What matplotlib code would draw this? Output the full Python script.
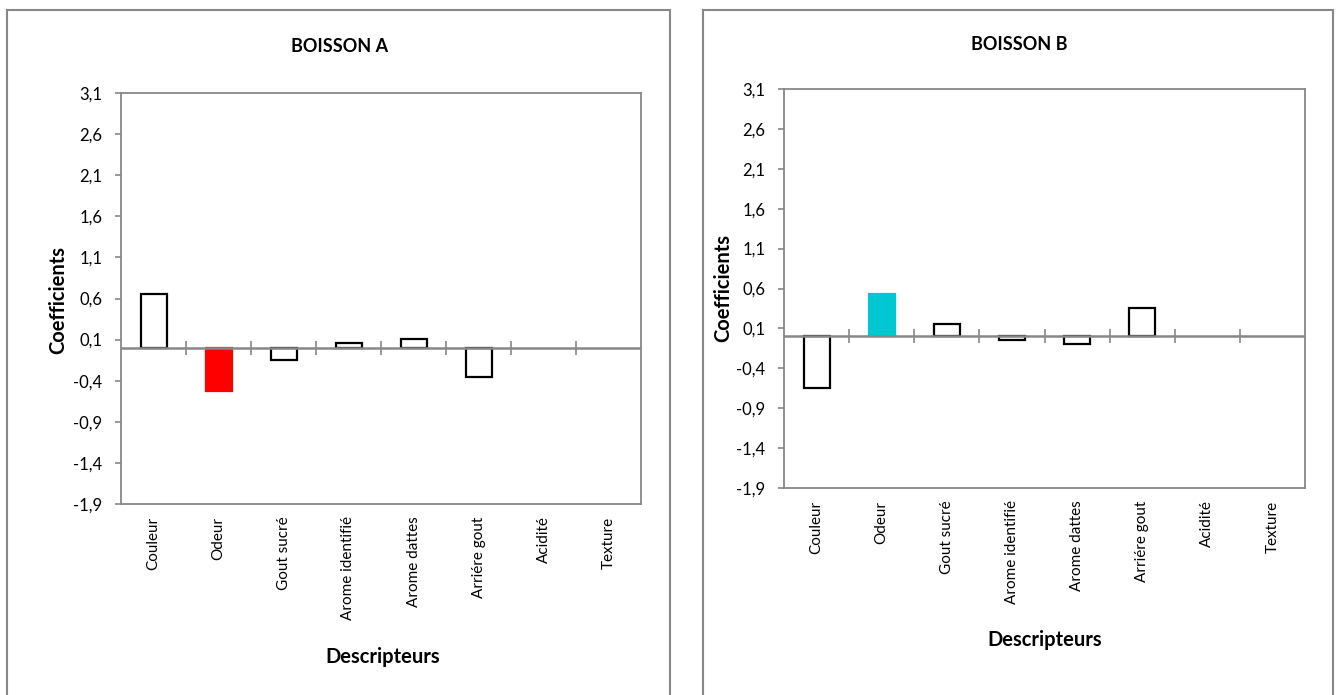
import numpy as np
import matplotlib
matplotlib.use("Agg")
import matplotlib.pyplot as plt
from matplotlib.patches import Rectangle

plt.rcParams['font.family'] = ['Lato', 'DejaVu Sans']

descripteurs = ['Couleur', 'Odeur', 'Gout sucré', 'Arome identifié',
                'Arome dattes', 'Arriére gout', 'Acidité', 'Texture']
coef_a = [0.66, -0.53, -0.15, 0.06, 0.11, -0.35, 0.0, 0.0]
coef_b = [-0.65, 0.535, 0.155, -0.05, -0.10, 0.355, 0.0, 0.0]
highlight_a = '#FF0000'
highlight_b = '#00C8D2'
yticks = [-1.9, -1.4, -0.9, -0.4, 0.1, 0.6, 1.1, 1.6, 2.1, 2.6, 3.1]

GRAY = '#888888'
W, H = 1337, 695


def draw_panel(fig, rect, title, values, hcolor, title_xy, ylab_xy, xlab_xy):
    ax = fig.add_axes(rect)
    x = np.arange(len(descripteurs))
    colors = ['white'] * len(values)
    edges = ['black' if v != 0 else 'none' for v in values]
    colors[1] = hcolor
    edges[1] = hcolor
    ax.bar(x, values, width=0.4, color=colors, edgecolor=edges, linewidth=1.6, zorder=2)
    ax.axhline(0, color=GRAY, lw=1.8, zorder=3)

    ax.set_xlim(-0.5, len(descripteurs) - 0.5)
    ax.set_ylim(-1.9, 3.1)
    ax.set_yticks(yticks)
    ax.set_yticklabels([f'{v:.1f}'.replace('.', ',') for v in yticks], fontsize=12)
    ax.set_xticks(x)
    ax.set_xticklabels(descripteurs, rotation=90, fontsize=11)
    ax.tick_params(axis='x', length=0, pad=9)
    ax.tick_params(axis='y', length=4.5, width=1.2, color=GRAY, pad=9)
    for s in ax.spines.values():
        s.set_color(GRAY)
        s.set_linewidth(1.3)

    # category separators crossing the zero line
    zero_frac = (0 - ax.get_ylim()[0]) / (ax.get_ylim()[1] - ax.get_ylim()[0])
    sec = ax.secondary_xaxis(zero_frac)
    sec.set_xticks(np.arange(0.5, len(descripteurs) - 1, 1.0))
    sec.set_xticklabels([])
    sec.tick_params(direction='inout', length=10, width=1.2, color=GRAY)
    sec.spines['bottom'].set_visible(False)
    sec.spines['top'].set_visible(False)

    fig.text(title_xy[0] / W, 1 - title_xy[1] / H, title, ha='center', va='center',
             fontsize=13, fontweight='bold')
    fig.text(ylab_xy[0] / W, 1 - ylab_xy[1] / H, 'Coefficients', ha='center', va='center',
             rotation=90, fontsize=14.5, fontweight='bold')
    fig.text(xlab_xy[0] / W, 1 - xlab_xy[1] / H, 'Descripteurs', ha='center', va='center',
             fontsize=14.5, fontweight='bold')
    return ax


fig = plt.figure(figsize=(13.37, 6.95), dpi=100)

# chart frames
for x0, x1 in [(7, 670), (703, 1333)]:
    fig.patches.append(Rectangle((x0 / W, -0.05), (x1 - x0) / W, 1.05 - 10 / H,
                                 transform=fig.transFigure, fill=False,
                                 edgecolor=GRAY, linewidth=1.5))

draw_panel(fig, [121 / W, 1 - 504 / H, 520 / W, 411 / H], 'BOISSON A', coef_a, highlight_a,
           (340, 46), (58, 300), (383, 657))
draw_panel(fig, [784 / W, 1 - 488 / H, 521 / W, 399 / H], 'BOISSON B', coef_b, highlight_b,
           (1019, 45), (723, 288), (1045, 640))

fig.savefig('out.png', dpi=100)
